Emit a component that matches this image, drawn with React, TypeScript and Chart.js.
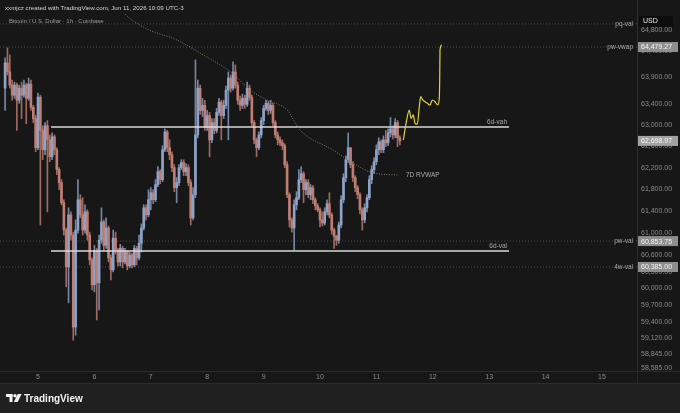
import React, { useEffect, useRef } from 'react';
import { Chart, registerables } from 'chart.js';

Chart.register(...registerables);

// ---------- data ----------
const FIRST_OPEN = 63694;
const START_DAY = 4;
const START_HOUR = 10;

const closes = [
  64174, 64002, 63752, 63560, 63752, 63464, 63694, 63560, 63752, 63502,
  63771, 63330, 63118, 62571, 63522, 62895, 62534, 62984, 62719, 62404,
  62775, 62534, 62164, 61924, 61554, 61054, 60388, 61332, 60962, 59314,
  61054, 61609, 61332, 61054, 61387, 60962, 60513, 60066, 60684, 60101,
  60869, 61202, 60776, 61091, 60549, 60334, 60906, 60684, 60477, 60721,
  60477, 60656, 60406, 60603, 60424, 60721, 60549, 60814, 61091, 61461,
  61332, 61609, 61738, 61609, 61886, 62127, 61979, 62534, 62867, 62571,
  62442, 62201, 61831, 61924, 62201, 62294, 62127, 62201, 61924, 61276,
  61702, 62812, 63694, 63272, 63368, 62946, 63176, 62719, 63042, 62895,
  63234, 63426, 63176, 63368, 63656, 63886, 63694, 64002, 63752, 63464,
  63368, 63502, 63387, 63694, 63522, 63042, 62719, 62571, 62812, 63080,
  63310, 63406, 63272, 63368, 63042, 62812, 62719, 62664, 62608, 62256,
  61702, 61239, 61091, 61516, 61646, 61979, 62090, 61794, 61924, 61702,
  61831, 61609, 61498, 61424, 61239, 61184, 61387, 61535, 61332, 61054,
  60943, 60869, 61146, 61609, 62016, 62349, 62571, 62256, 62016, 61831,
  61702, 61424, 61239, 61461, 61646, 61979, 62164, 62312, 62534, 62682,
  62534, 62719, 62664, 62849, 62926, 62812, 63042, 62756, 62698.97,
];

const highs = [
  64270, 64462, 64328, 63848, 63810, 63790, 63752, 63810, 63848, 63790,
  63886, 63848, 63368, 63176, 63598, 63560, 62984, 63042, 63080, 62812,
  62849, 62812, 62571, 62201, 61979, 61609, 61091, 61461, 61387, 61017,
  61239, 61979, 61702, 61646, 61516, 61424, 61017, 60549, 60776, 60721,
  60962, 61461, 61239, 61276, 61128, 60603, 61054, 61017, 60721, 60795,
  60758, 60721, 60684, 60656, 60638, 60776, 60758, 60962, 61165, 61516,
  61516, 61794, 61831, 61794, 61979, 62220, 62164, 62608, 62926, 62895,
  62719, 62497, 62256, 62016, 62256, 62349, 62349, 62275, 62256, 61979,
  61831, 64232, 63848, 63752, 63502, 63464, 63272, 63234, 63118, 63118,
  63310, 63502, 63464, 63464, 63733, 64002, 63944, 64194, 64136, 63810,
  63541, 63579, 63560, 63810, 63752, 63560, 63080, 62756, 62867, 63138,
  63368, 63464, 63445, 63464, 63406, 63080, 62867, 62775, 62719, 62645,
  62312, 61738, 61276, 61609, 61757, 62164, 62220, 62127, 61979, 61979,
  61886, 61868, 61646, 61535, 61461, 61387, 61461, 61609, 61738, 61368,
  61091, 60962, 61202, 61683, 62090, 62423, 62849, 62534, 62312, 62053,
  61868, 61738, 61461, 61535, 61702, 62053, 62238, 62386, 62626, 62756,
  62719, 62793, 62895, 62926, 63138, 62984, 63118, 63080, 62793,
];

const lows = [
  63272, 63944, 63694, 63464, 63502, 62895, 63406, 63118, 63522, 63022,
  63464, 63272, 63042, 62497, 62534, 61146, 62349, 62442, 61387, 62312,
  62349, 62442, 62072, 61794, 61516, 60962, 60030, 59743, 60869, 59081,
  59170, 60998, 61276, 60962, 60998, 60869, 60424, 59976, 59940, 59439,
  59618, 60814, 60684, 60721, 60477, 60155, 60298, 60620, 60406, 60406,
  60370, 60442, 60334, 60370, 60370, 60388, 60424, 60513, 60656, 61054,
  61239, 61295, 61424, 61535, 61572, 61850, 61905, 61942, 62497, 62497,
  62349, 62127, 61757, 61554, 61868, 62164, 62053, 62053, 61868, 61146,
  61239, 61646, 62756, 63195, 63157, 62895, 62895, 62404, 62664, 62830,
  62849, 63176, 62719, 63118, 63310, 62719, 63618, 63656, 63694, 63387,
  63272, 63310, 63310, 63349, 63464, 62984, 62645, 62404, 62534, 62756,
  63003, 63272, 63195, 63214, 62984, 62756, 62626, 62608, 62534, 62201,
  61646, 61110, 61017, 60684, 61424, 61609, 61924, 61554, 61702, 61646,
  61609, 61535, 61424, 61387, 61110, 61128, 61146, 61332, 61276, 60980,
  60721, 60776, 60814, 61091, 61554, 61942, 62294, 62201, 61942, 61757,
  61628, 61350, 61054, 61184, 61387, 61609, 61905, 62090, 62256, 62442,
  62479, 62479, 62590, 62608, 62775, 62738, 62756, 62590, 62626,
];

const dayTicks = [5, 6, 7, 8, 9, 10, 11, 12, 13, 14, 15];
const priceTicks = [
  64800, 64400, 63900, 63400, 63000, 62600, 62200, 61800, 61400, 61000,
  60600, 60300, 60000, 59700, 59400, 59120, 58845, 58585,
];

const X_MIN = 4.3262;
const X_MAX = 15.6206;
const Y_MIN = 58541;
const Y_MAX = 65390;

const axisLevelNames = ['pq-val', 'pw-vwap', 'pw-val', '4w-val'];
const axisLevelPrices = [64925, 64479.27, 60853.75, 60385.0];
const axisLevelBoxed = [false, true, true, true];

const rangeLevelNames = ['6d-vah', '6d-val'];
const rangeLevelPrices = [62960, 60674];
const RANGE_START = 5.2305;
const RANGE_END = 13.351;

const rvwapDays = [6.5426, 6.5957, 6.9326, 7.4645, 7.8723, 8.4397, 8.7589, 9.0603, 9.4149, 9.6454, 10.2305, 10.5851, 10.9397, 11.383];
const rvwapPrices = [65117, 65059, 64827, 64614, 64364, 63982, 63658, 63469, 63280, 62904, 62529, 62287, 62102, 62065];

const projDays = [11.477, 11.5372, 11.5833, 11.6135, 11.6543, 11.6844, 11.7252, 11.7606, 11.7855, 11.8209, 11.8617, 11.9025, 11.9504, 11.9911, 12.039, 12.0869, 12.1152, 12.1223, 12.1277, 12.1578];
const projPrices = [62716, 63092, 63280, 63123, 63186, 63029, 63011, 63342, 63531, 63469, 63436, 63406, 63374, 63469, 63436, 63374, 63501, 63848, 64422, 64518];

const LAST_PRICE = 62698.97;

// ---------- styles ----------
const UP = '#8fa3c8';
const DOWN = '#c07e72';
const UP_WICK = '#7587a8';
const DOWN_WICK = '#9f6a60';
const FONT = '"Liberation Sans", Arial, sans-serif';

const fmt = (v: number) =>
  v.toLocaleString('en-US', { minimumFractionDigits: 2, maximumFractionDigits: 2 });

function buildCandles() {
  const out: { x: number; o: number; h: number; l: number; c: number }[] = [];
  let prev = FIRST_OPEN;
  for (let i = 0; i < closes.length; i++) {
    const o = prev;
    const c = closes[i];
    out.push({
      x: START_DAY + (START_HOUR + i) / 24,
      o,
      c,
      h: Math.max(highs[i], o, c),
      l: Math.min(lows[i], o, c),
    });
    prev = c;
  }
  return out;
}

const decorPlugin = {
  id: 'decor',
  beforeDraw(chart: any) {
    const { ctx, width, height, chartArea } = chart;
    const bottom = chartArea.bottom;
    const right = chartArea.right;
    ctx.save();
    ctx.fillStyle = '#202020';
    ctx.fillRect(0, 0, width, height);
    ctx.fillStyle = '#171717';
    ctx.fillRect(0, 0, width, bottom + 12);
    ctx.strokeStyle = '#2c2c2c';
    ctx.lineWidth = 1;
    ctx.beginPath();
    ctx.moveTo(0, bottom + 0.5);
    ctx.lineTo(width, bottom + 0.5);
    ctx.moveTo(0, bottom + 12.5);
    ctx.lineTo(width, bottom + 12.5);
    ctx.moveTo(right + 0.5, 0);
    ctx.lineTo(right + 0.5, bottom + 12);
    ctx.stroke();
    ctx.restore();
  },
  afterDraw(chart: any) {
    const { ctx, chartArea, scales } = chart;
    const y = scales.y;
    const x = scales.x;
    const right = chartArea.right;
    ctx.save();
    ctx.textBaseline = 'middle';

    // range level labels
    ctx.font = `6.5px ${FONT}`;
    ctx.fillStyle = '#ababab';
    ctx.textAlign = 'right';
    rangeLevelNames.forEach((n, i) => {
      const py = y.getPixelForValue(rangeLevelPrices[i]);
      ctx.fillText(n, x.getPixelForValue(RANGE_END) - 2, py - 4.5);
    });

    // axis level labels
    axisLevelNames.forEach((n, i) => {
      const py = y.getPixelForValue(axisLevelPrices[i]);
      ctx.fillText(n, right - 4, py);
    });

    // RVWAP label
    ctx.textAlign = 'left';
    const lastIdx = rvwapDays.length - 1;
    ctx.fillText('7D RVWAP', x.getPixelForValue(rvwapDays[lastIdx]) + 8, y.getPixelForValue(rvwapPrices[lastIdx]));

    // price boxes on axis
    const box = (price: number, fill: string) => {
      const py = y.getPixelForValue(price);
      ctx.fillStyle = fill;
      ctx.fillRect(right + 1, py - 5, 40, 10);
      ctx.fillStyle = '#f4f4f4';
      ctx.font = `7px ${FONT}`;
      ctx.textAlign = 'left';
      ctx.fillText(fmt(price), right + 4, py + 0.5);
    };
    axisLevelNames.forEach((_, i) => {
      if (axisLevelBoxed[i]) box(axisLevelPrices[i], '#8e8e8e');
    });
    box(LAST_PRICE, '#a2a2a2');

    // USD box
    ctx.fillStyle = '#0d0d0d';
    ctx.fillRect(right + 2, 16, 34, 11);
    ctx.fillStyle = '#e8e8e8';
    ctx.font = `7px ${FONT}`;
    ctx.textAlign = 'left';
    ctx.fillText('USD', right + 6, 21.5);

    // header
    ctx.fillStyle = '#d6d6d6';
    ctx.font = `6.2px ${FONT}`;
    ctx.fillText('xxmjcz created with TradingView.com, Jun 11, 2026 10:09 UTC-3', 5, 8);
    ctx.fillStyle = '#9c9c9c';
    ctx.font = `6px ${FONT}`;
    ctx.fillText('Bitcoin / U.S. Dollar · 1h · Coinbase', 9, 21);

    // footer logo
    ctx.fillStyle = '#f2f2f2';
    ctx.fillRect(6, 394, 6.5, 3);
    ctx.fillRect(9.5, 394, 3, 8);
    ctx.beginPath();
    ctx.arc(15, 395.7, 1.7, 0, Math.PI * 2);
    ctx.fill();
    ctx.beginPath();
    ctx.moveTo(17.8, 394);
    ctx.lineTo(21.6, 394);
    ctx.lineTo(17.6, 402);
    ctx.lineTo(13.8, 402);
    ctx.closePath();
    ctx.fill();
    ctx.font = `600 10px ${FONT}`;
    ctx.textBaseline = 'alphabetic';
    ctx.fillText('TradingView', 24, 402);

    ctx.restore();
  },
};

export default function App() {
  const ref = useRef<HTMLCanvasElement | null>(null);

  useEffect(() => {
    if (!ref.current) return;
    const candles = buildCandles();
    const upOrDown = (c: { o: number; c: number }) => c.c >= c.o;

    const datasets: any[] = [
      {
        type: 'bar',
        label: 'wicks',
        data: candles.map((c) => ({ x: c.x, y: [c.l, c.h] })),
        backgroundColor: candles.map((c) => (upOrDown(c) ? UP_WICK : DOWN_WICK)),
        barThickness: 1,
        grouped: false,
        borderWidth: 0,
        order: 4,
      },
      {
        type: 'bar',
        label: 'bodies',
        data: candles.map((c) => ({ x: c.x, y: [Math.min(c.o, c.c), Math.max(c.o, c.c)] })),
        backgroundColor: candles.map((c) => (upOrDown(c) ? UP : DOWN)),
        barThickness: 2,
        minBarLength: 1,
        grouped: false,
        borderWidth: 0,
        order: 3,
      },
      ...rangeLevelPrices.map((p) => ({
        type: 'line',
        data: [
          { x: RANGE_START, y: p },
          { x: RANGE_END, y: p },
        ],
        borderColor: '#d8d8d8',
        borderWidth: 1.3,
        pointRadius: 0,
        order: 2,
      })),
      ...axisLevelPrices.map((p) => ({
        type: 'line',
        data: [
          { x: X_MIN, y: p },
          { x: X_MAX, y: p },
        ],
        borderColor: '#4d4d4d',
        borderWidth: 1,
        borderDash: [1, 2],
        pointRadius: 0,
        order: 5,
      })),
      {
        type: 'line',
        data: rvwapDays.map((d, i) => ({ x: d, y: rvwapPrices[i] })),
        borderColor: '#8a7a5c',
        borderWidth: 1,
        borderDash: [1, 1.5],
        pointRadius: 0,
        cubicInterpolationMode: 'monotone',
        order: 1,
      },
      {
        type: 'line',
        data: projDays.map((d, i) => ({ x: d, y: projPrices[i] })),
        borderColor: '#e2d040',
        borderWidth: 1.2,
        pointRadius: 0,
        cubicInterpolationMode: 'monotone',
        order: 0,
      },
    ];

    const chart = new Chart(ref.current, {
      type: 'bar',
      data: { datasets },
      options: {
        animation: false,
        responsive: false,
        maintainAspectRatio: false,
        devicePixelRatio: 1,
        layout: { padding: 0 },
        plugins: {
          legend: { display: false },
          tooltip: { enabled: false },
        },
        scales: {
          x: {
            type: 'linear',
            position: 'bottom',
            min: X_MIN,
            max: X_MAX,
            offset: false,
            grid: { display: false, drawTicks: false },
            border: { display: false },
            ticks: {
              autoSkip: false,
              maxRotation: 0,
              padding: 2,
              color: '#8c8c8c',
              font: { size: 7, family: FONT },
              callback: (v: any) => String(v),
            },
            afterBuildTicks: (s: any) => {
              s.ticks = dayTicks.map((v) => ({ value: v }));
            },
            afterFit: (s: any) => {
              s.height = 42;
              s.paddingLeft = 0;
              s.paddingRight = 0;
            },
          },
          y: {
            type: 'logarithmic',
            position: 'right',
            min: Y_MIN,
            max: Y_MAX,
            grid: { display: false, drawTicks: false },
            border: { display: false },
            ticks: {
              autoSkip: false,
              padding: 4,
              color: '#8c8c8c',
              font: { size: 7, family: FONT },
              callback: (v: any) => fmt(Number(v)),
            },
            afterBuildTicks: (s: any) => {
              s.ticks = priceTicks.map((v) => ({ value: v }));
            },
            afterFit: (s: any) => {
              s.width = 43;
              s.paddingTop = 0;
              s.paddingBottom = 0;
            },
          },
        },
      } as any,
      plugins: [decorPlugin],
    });
    return () => chart.destroy();
  }, []);

  return (
    <div style={{ position: 'absolute', left: 0, top: 0, width: 680, height: 413 }}>
      <canvas ref={ref} width={680} height={413} style={{ width: 680, height: 413, display: 'block' }} />
    </div>
  );
}
